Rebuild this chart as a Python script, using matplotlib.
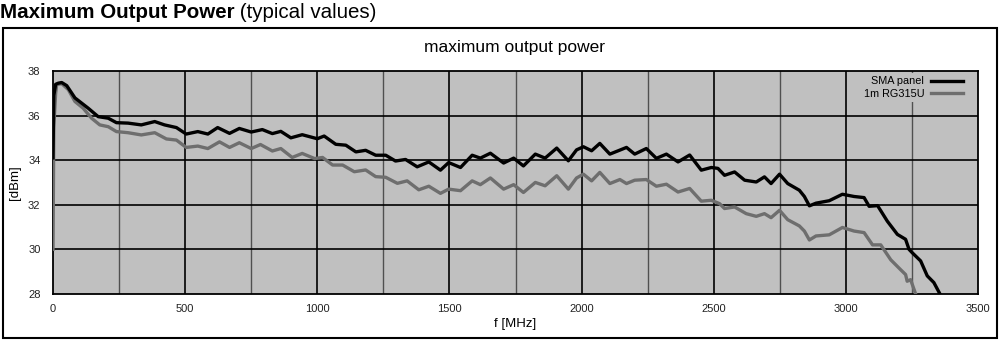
import matplotlib
matplotlib.use("Agg")
import matplotlib.pyplot as plt
from matplotlib.patches import Rectangle

plt.rcParams['font.family'] = ['Liberation Sans', 'DejaVu Sans']

# frequency [MHz] / max output power [dBm]
sma_freq = [0, 3, 10, 20, 33, 52, 83, 108, 133, 171, 209, 240, 284, 334, 385,
            422, 467, 504, 548, 586, 623, 668, 705, 750, 792, 830, 862, 900,
            943, 1000, 1026, 1070, 1108, 1146, 1183, 1221, 1259, 1296, 1334,
            1378, 1422, 1466, 1497, 1542, 1586, 1617, 1655, 1705, 1743, 1780,
            1825, 1862, 1906, 1950, 1981, 2007, 2038, 2069, 2107, 2145, 2170,
            2201, 2245, 2283, 2321, 2365, 2409, 2453, 2491, 2516, 2541, 2579,
            2617, 2661, 2692, 2717, 2749, 2780, 2824, 2843, 2862, 2887, 2937,
            2987, 3031, 3069, 3088, 3120, 3157, 3195, 3226, 3239, 3251, 3283,
            3308, 3333, 3356]
sma_dbm = [34.1, 36.9, 37.4, 37.45, 37.48, 37.34, 36.79, 36.56, 36.33, 35.95,
           35.88, 35.68, 35.66, 35.58, 35.73, 35.58, 35.46, 35.17, 35.28, 35.17,
           35.46, 35.2, 35.42, 35.26, 35.37, 35.19, 35.29, 35.0, 35.14, 34.96,
           35.08, 34.71, 34.67, 34.37, 34.44, 34.22, 34.22, 33.96, 34.03, 33.7,
           33.92, 33.55, 33.89, 33.67, 34.22, 34.09, 34.31, 33.87, 34.09, 33.74,
           34.27, 34.09, 34.54, 33.97, 34.46, 34.6, 34.42, 34.75, 34.27, 34.45,
           34.57, 34.27, 34.52, 34.08, 34.27, 33.92, 34.23, 33.55, 33.67, 33.63,
           33.32, 33.47, 33.1, 33.02, 33.25, 32.95, 33.37, 32.95, 32.65, 32.37,
           31.95, 32.07, 32.18, 32.47, 32.37, 32.32, 31.93, 31.96, 31.26, 30.67,
           30.45, 30.0, 29.85, 29.48, 28.81, 28.51, 28.0]

rg_freq = [0, 3, 10, 14, 33, 58, 83, 114, 146, 177, 209, 240, 284, 334, 385,
           429, 467, 504, 548, 586, 630, 668, 705, 750, 785, 830, 862, 905, 943,
           990, 1020, 1058, 1096, 1140, 1183, 1221, 1259, 1303, 1340, 1384,
           1422, 1466, 1497, 1542, 1586, 1617, 1655, 1705, 1743, 1780, 1825,
           1862, 1906, 1950, 1981, 2007, 2038, 2069, 2107, 2145, 2170, 2201,
           2245, 2283, 2321, 2365, 2409, 2453, 2491, 2522, 2541, 2579, 2623,
           2661, 2692, 2717, 2749, 2780, 2824, 2843, 2862, 2887, 2937, 2987,
           3031, 3069, 3101, 3132, 3170, 3207, 3226, 3232, 3245, 3264]
rg_dbm = [30.0, 35.5, 37.0, 37.39, 37.43, 37.16, 36.63, 36.33, 35.88, 35.58,
          35.5, 35.28, 35.23, 35.13, 35.23, 34.95, 34.9, 34.57, 34.63, 34.52,
          34.82, 34.57, 34.78, 34.52, 34.7, 34.41, 34.52, 34.12, 34.3, 34.07,
          34.12, 33.78, 33.78, 33.48, 33.56, 33.26, 33.23, 32.96, 33.07, 32.67,
          32.83, 32.51, 32.7, 32.63, 33.07, 32.9, 33.2, 32.7, 32.9, 32.55, 33.0,
          32.85, 33.3, 32.7, 33.2, 33.37, 33.07, 33.45, 32.95, 33.13, 32.95,
          33.1, 33.13, 32.83, 32.92, 32.57, 32.73, 32.16, 32.2, 32.05, 31.83,
          31.9, 31.6, 31.48, 31.6, 31.42, 31.75, 31.33, 31.05, 30.82, 30.42,
          30.6, 30.65, 30.98, 30.82, 30.75, 30.2, 30.2, 29.53, 29.09, 28.87,
          28.57, 28.64, 28.0]

x_major = [0, 500, 1000, 1500, 2000, 2500, 3000, 3500]
x_minor = [250, 750, 1250, 1750, 2250, 2750, 3250]
y_ticks = [28, 30, 32, 34, 36, 38]

fig = plt.figure(figsize=(10, 3.41), dpi=100)
ax = fig.add_axes([0.053, 0.138, 0.925, 0.654])
ax.set_facecolor('#c0c0c0')

# outer frame around the chart
fig.patches.append(Rectangle((0.003, 0.009), 0.994, 0.909, transform=fig.transFigure,
                             fill=False, edgecolor='black', linewidth=1.5))

for x in x_minor:
    ax.axvline(x, color='#505050', linewidth=1.0, zorder=1)
for x in x_major[1:-1]:
    ax.axvline(x, color='black', linewidth=1.2, zorder=1)
for y in y_ticks[1:-1]:
    ax.axhline(y, color='black', linewidth=1.2, zorder=1)

l_sma, = ax.plot(sma_freq, sma_dbm, color='black', linewidth=2.4, zorder=4,
                 label='SMA panel')
l_rg, = ax.plot(rg_freq, rg_dbm, color='#6e6e6e', linewidth=2.4, zorder=3,
                label='1m RG315U')

ax.set_xlim(0, 3500)
ax.set_ylim(28, 38)
ax.set_xticks(x_major)
ax.set_yticks(y_ticks)
ax.tick_params(length=0, labelsize=8, colors='#222222')
ax.tick_params(axis='x', pad=7)
ax.tick_params(axis='y', pad=9)
for s in ax.spines.values():
    s.set_linewidth(1.3)

ax.set_xlabel('f [MHz]', fontsize=9.5, labelpad=3)
ax.set_ylabel('[dBm]', fontsize=9.5, labelpad=5)

leg = ax.legend(handles=[l_sma, l_rg], loc='upper right', fontsize=7.8,
                bbox_to_anchor=(0.99, 1.0),
                markerfirst=False, frameon=True, fancybox=False,
                facecolor='#c0c0c0', edgecolor='none', framealpha=1,
                handlelength=3.0, handletextpad=0.6, labelspacing=0.2,
                borderpad=0.3, borderaxespad=0.2)
leg.set_zorder(5)

fig.text(0.515, 0.862, 'maximum output power', ha='center', va='center', fontsize=12.5)

t1 = fig.text(0.0, 0.99, 'Maximum Output Power', ha='left', va='top',
              fontsize=14.8, fontweight='bold')
fig.canvas.draw()
bb = t1.get_window_extent()
fig.text(bb.x1 / fig.bbox.width, 0.99, ' (typical values)', ha='left', va='top',
         fontsize=14.8)

fig.savefig('out.png', dpi=100)
